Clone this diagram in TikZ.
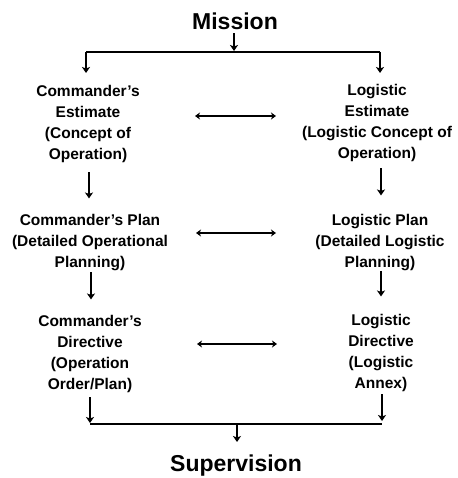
\documentclass[tikz,border=0pt]{standalone}
\usepackage{fontspec}
\setmainfont{Liberation Sans}
\usetikzlibrary{arrows.meta}
\begin{document}
\begin{tikzpicture}[x=1pt,y=-1pt,
  lbl/.style={font=\bfseries\fontsize{15.5}{21}\selectfont,align=center,inner sep=0pt,anchor=base},
  big/.style={font=\bfseries\fontsize{23}{26}\selectfont,inner sep=0pt,anchor=base},
  arr/.style={line width=1.9pt,-{Stealth[length=6pt,width=8pt,inset=1.5pt]}},
  darr/.style={line width=1.6pt,{Stealth[length=5pt,width=7pt,inset=1.5pt]}-{Stealth[length=5pt,width=7pt,inset=1.5pt]}},
  brk/.style={line width=2.2pt}]
\useasboundingbox (0,0) rectangle (457,478);
\fill[white] (0,0) rectangle (457,478);
\node[big] (mission) at (235,30) {Mission};
\node[lbl] (ce) at (88,160) {Commander's\\Estimate\\(Concept of\\Operation)};
\node[lbl] (le) at (377,158.5) {Logistic\\Estimate\\(Logistic Concept of\\Operation)};
\node[lbl] (cp) at (90,267.5) {Commander's Plan\\(Detailed Operational\\Planning)};
\node[lbl] (lp) at (380,267.5) {Logistic Plan\\(Detailed Logistic\\Planning)};
\node[lbl] (cd) at (90,389.5) {Commander's\\Directive\\(Operation\\Order/Plan)};
\node[lbl] (ld) at (381,388.5) {Logistic\\Directive\\(Logistic\\Annex)};
\node[big] (sup) at (236,471) {Supervision};
% top bracket
\coordinate (tl) at (86,52);
\coordinate (tm) at (234,52);
\coordinate (tr) at (380,52);
\draw[arr] ([yshift=-3pt]mission.south -| tm) -- ([yshift=1pt]tm);
\draw[brk] (tl) -- (tr);
\draw[arr] (tl) -- (86,73);
\draw[arr] (tr) -- (380,73);
% horizontal double arrows
\coordinate (h1l) at (195,116); \coordinate (h1r) at (276,116);
\coordinate (h2l) at (196,233); \coordinate (h2r) at (276,233);
\coordinate (h3l) at (197,344); \coordinate (h3r) at (277,344);
\draw[darr] (h1l) -- (h1r);
\draw[darr] (h2l) -- (h2r);
\draw[darr] (h3l) -- (h3r);
% vertical arrows
\draw[arr] ([yshift=-9pt]ce.south -| 89,0) -- ([yshift=15.6pt]cp.north -| 89,0);
\draw[arr] ([yshift=-6.4pt]le.south -| 381,0) -- ([yshift=18.6pt]lp.north -| 381,0);
\draw[arr] ([yshift=-1.5pt]cp.south -| 91,0) -- ([yshift=15.6pt]cd.north -| 91,0);
\draw[arr] ([yshift=0pt]lp.south -| 381,0) -- ([yshift=17.6pt]ld.north -| 381,0);
% bottom bracket
\coordinate (bl) at (90,424);
\coordinate (bm) at (237,424);
\coordinate (br) at (382,424);
\draw[arr] ([yshift=-4.4pt]cd.south -| bl) -- ([yshift=1pt]bl);
\draw[arr] ([yshift=-2.4pt]ld.south -| br) -- ([yshift=3pt]br);
\draw[brk] (bl) -- (br);
\draw[arr] (bm) -- (237,442);
\end{tikzpicture}
\end{document}
